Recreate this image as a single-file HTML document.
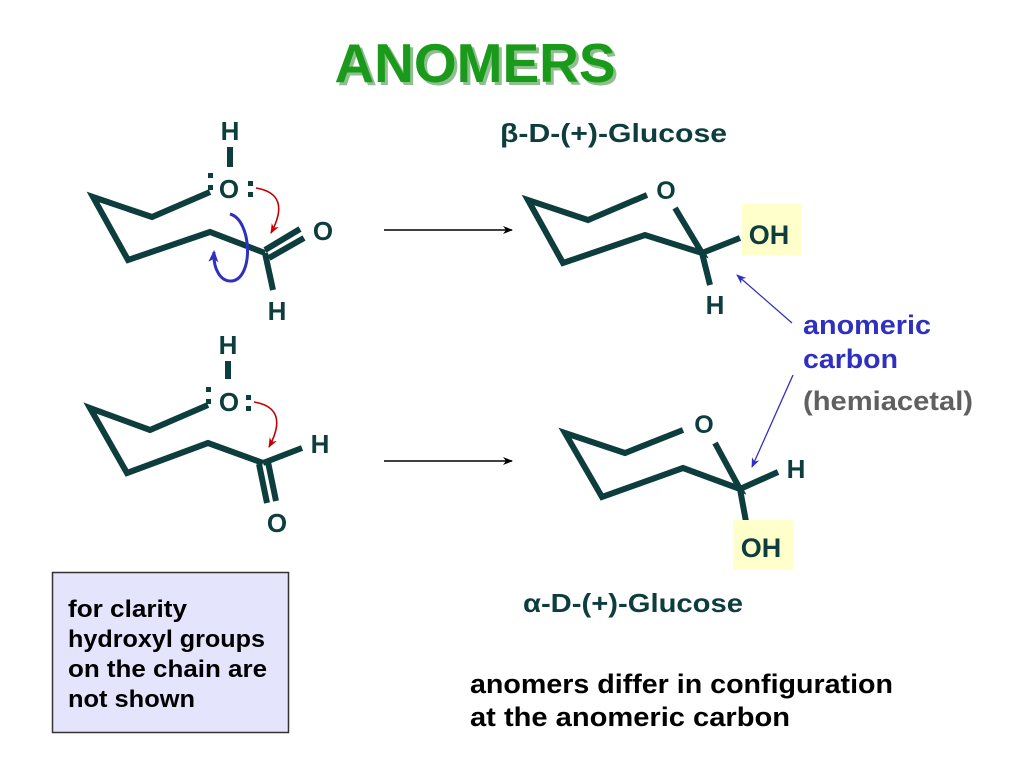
<!DOCTYPE html>
<html><head><meta charset="utf-8"><style>
html,body{margin:0;padding:0;background:#fff;}
svg{display:block;}
text{font-family:"Liberation Sans",Arial,sans-serif;font-weight:bold;}
</style></head><body>
<svg width="1024" height="768" viewBox="0 0 1024 768" xmlns="http://www.w3.org/2000/svg">
<defs>
<marker id="ab" markerWidth="10" markerHeight="8" refX="9" refY="4" orient="auto" markerUnits="userSpaceOnUse"><path d="M0,0 L10,4 L0,8 L3,4 Z" fill="#000"/></marker>
<marker id="ar" markerWidth="10" markerHeight="8" refX="9" refY="4" orient="auto" markerUnits="userSpaceOnUse"><path d="M0,0 L10,4 L0,8 L3,4 Z" fill="#c00000"/></marker>
<marker id="au" markerWidth="12" markerHeight="10" refX="10" refY="5" orient="auto" markerUnits="userSpaceOnUse"><path d="M0,0 L12,5 L0,10 L3,5 Z" fill="#3030c0"/></marker>
<marker id="abl" markerWidth="10" markerHeight="8" refX="9" refY="4" orient="auto" markerUnits="userSpaceOnUse"><path d="M0,0 L10,4 L0,8 L3,4 Z" fill="#3030c0"/></marker>
</defs>

<text x="475" y="82" font-size="55" text-anchor="middle" fill="#8fbf8f" transform="translate(3,3)">ANOMERS</text>
<text x="475" y="82" font-size="55" text-anchor="middle" fill="#1a9a1a">ANOMERS</text>

<g stroke="#0d3d3d" stroke-width="6" fill="none" stroke-linejoin="miter" stroke-linecap="butt">
<polyline points="210,192 152,217 93,197 128,260 210,232 265,253"/>
<line x1="265" y1="253" x2="273" y2="290"/>
<line x1="265" y1="250" x2="300" y2="229"/>
<line x1="269" y1="258" x2="304" y2="238"/>
<line x1="230" y1="147" x2="230" y2="167"/>
<polyline points="208,405 150,430 90,408 127,473 208,443 263,463"/>
<line x1="263" y1="463" x2="302" y2="448"/>
<line x1="259" y1="464" x2="267" y2="503"/>
<line x1="268" y1="462" x2="276" y2="501"/>
<line x1="228" y1="361" x2="228" y2="379"/>
<polyline points="647,195 588,220 528,200 563,263 645,235 702,253 675,208"/>
<line x1="702" y1="253" x2="740" y2="238"/>
<line x1="702" y1="253" x2="710" y2="285"/>
<polyline points="683,430 625,453 565,433 602,497 683,468 740,489 715,443"/>
<line x1="740" y1="489" x2="778" y2="472"/>
<line x1="740" y1="489" x2="747" y2="527"/>
</g>

<rect x="742" y="204" width="60" height="51" fill="#ffffcc"/>
<rect x="733" y="520" width="60" height="50" fill="#ffffcc"/>

<g fill="#0d3d3d" font-size="26">
<text x="230" y="140" text-anchor="middle">H</text>
<text x="229" y="198" text-anchor="middle">O</text>
<text x="323" y="240" text-anchor="middle">O</text>
<text x="277" y="320" text-anchor="middle">H</text>
<text x="228" y="354" text-anchor="middle">H</text>
<text x="229" y="411" text-anchor="middle">O</text>
<text x="320" y="453" text-anchor="middle">H</text>
<text x="277" y="532" text-anchor="middle">O</text>
<text x="666" y="199" text-anchor="middle" font-size="25">O</text>
<text x="769" y="244" text-anchor="middle" font-size="27">OH</text>
<text x="715" y="314" text-anchor="middle">H</text>
<text x="704" y="433" text-anchor="middle" font-size="25">O</text>
<text x="796" y="478" text-anchor="middle">H</text>
<text x="761" y="557" text-anchor="middle" font-size="27">OH</text>
</g>
<g fill="#0d3d3d">
<rect x="208" y="173" width="5" height="5"/><rect x="208" y="185" width="5" height="5"/>
<rect x="248" y="181" width="5" height="5"/><rect x="248" y="192" width="5" height="5"/>
<rect x="206" y="387" width="5" height="5"/><rect x="206" y="399" width="5" height="5"/>
<rect x="246" y="395" width="5" height="5"/><rect x="246" y="406" width="5" height="5"/>
</g>

<path d="M256,188 Q292,194 271,233" stroke="#c00000" stroke-width="1.6" fill="none" marker-end="url(#ar)"/>
<path d="M254,402 Q290,408 269,447" stroke="#c00000" stroke-width="1.6" fill="none" marker-end="url(#ar)"/>
<path d="M230,214 C252,220 254,278 232,281 C220,282 213,268 214,252" stroke="#3030c0" stroke-width="3" fill="none" marker-end="url(#au)"/>

<line x1="384" y1="230" x2="512" y2="230" stroke="#000" stroke-width="1.5" marker-end="url(#ab)"/>
<line x1="384" y1="461" x2="512" y2="461" stroke="#000" stroke-width="1.5" marker-end="url(#ab)"/>

<line x1="792" y1="323" x2="737" y2="275" stroke="#3030c0" stroke-width="1.3" marker-end="url(#abl)"/>
<line x1="793" y1="375" x2="752" y2="467" stroke="#3030c0" stroke-width="1.3" marker-end="url(#abl)"/>

<text x="500" y="142" font-size="26" fill="#0d3d3d" textLength="227" lengthAdjust="spacingAndGlyphs">β-D-(+)-Glucose</text>
<text x="523" y="612" font-size="26" fill="#0d3d3d" textLength="220" lengthAdjust="spacingAndGlyphs">α-D-(+)-Glucose</text>

<text x="803" y="334" font-size="27" fill="#3030c0" textLength="128" lengthAdjust="spacingAndGlyphs">anomeric</text>
<text x="803" y="368" font-size="27" fill="#3030c0" textLength="95" lengthAdjust="spacingAndGlyphs">carbon</text>
<text x="803" y="410" font-size="27" fill="#606060" textLength="170" lengthAdjust="spacingAndGlyphs">(hemiacetal)</text>

<rect x="52.5" y="572.5" width="236" height="160" fill="#e4e4fc" stroke="#333" stroke-width="1.5"/>
<g font-size="24" fill="#000">
<text x="68" y="617" textLength="119" lengthAdjust="spacingAndGlyphs">for clarity</text>
<text x="68" y="647" textLength="197" lengthAdjust="spacingAndGlyphs">hydroxyl groups</text>
<text x="68" y="677" textLength="199" lengthAdjust="spacingAndGlyphs">on the chain are</text>
<text x="68" y="707" textLength="127" lengthAdjust="spacingAndGlyphs">not shown</text>
</g>
<g font-size="27" fill="#000">
<text x="470" y="693" textLength="423" lengthAdjust="spacingAndGlyphs">anomers differ in configuration</text>
<text x="470" y="726" textLength="320" lengthAdjust="spacingAndGlyphs">at the anomeric carbon</text>
</g>
</svg>
</body></html>
